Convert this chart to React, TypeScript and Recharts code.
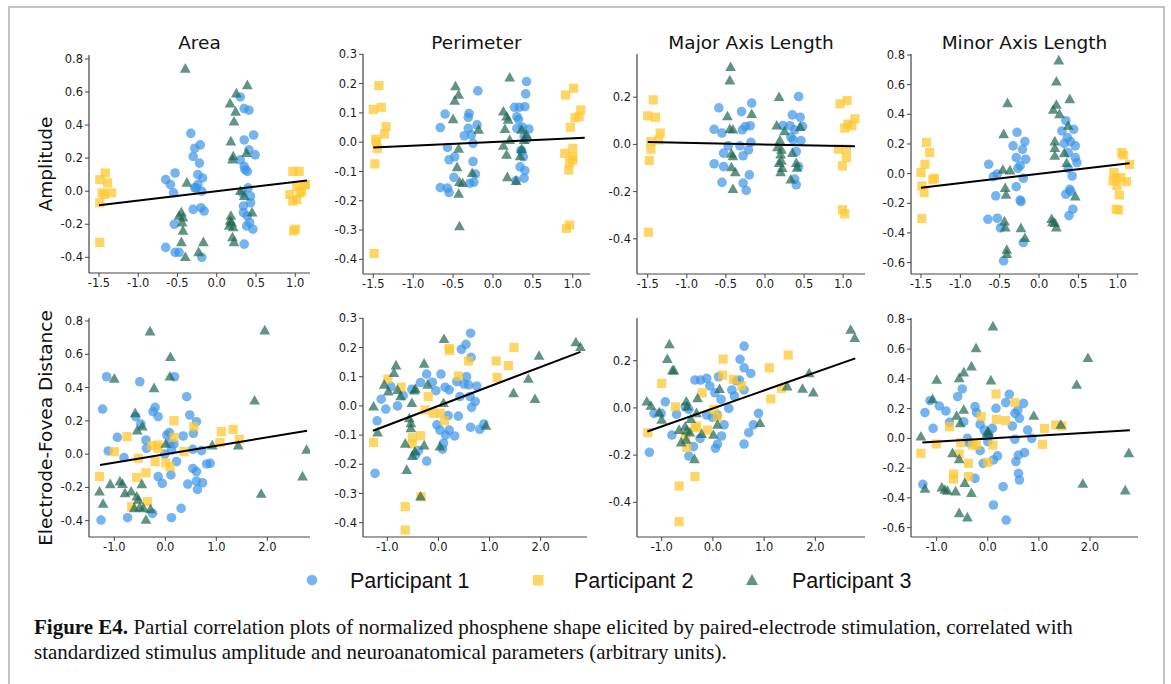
import { ScatterChart, Scatter, XAxis, YAxis } from 'recharts';

type Pt = [number, number];

// --- data ---

const TITLES = ['Area', 'Perimeter', 'Major Axis Length', 'Minor Axis Length'];
const ROW_LABELS = ['Amplitude', 'Electrode-Fovea Distance'];
const LEGEND = ['Participant 1', 'Participant 2', 'Participant 3'];

const TOP_X_TICKS = [-1.5, -1.0, -0.5, 0.0, 0.5, 1.0];
const BOTTOM_X_TICKS = [-1.0, 0.0, 1.0, 2.0];
const AREA_Y_TICKS = [-0.4, -0.2, 0.0, 0.2, 0.4, 0.6, 0.8];
const PERIM_Y_TICKS = [-0.4, -0.3, -0.2, -0.1, 0.0, 0.1, 0.2, 0.3];
const MAJOR_Y_TICKS = [-0.4, -0.2, 0.0, 0.2];
const MINOR_Y_TICKS = [-0.6, -0.4, -0.2, 0.0, 0.2, 0.4, 0.6, 0.8];

// amplitude row
const areaAmpP1: Pt[] = [[-0.33,0.35],[-0.28,0.26],[-0.21,0.28],[-0.30,0.21],[-0.22,0.17],[-0.53,0.11],[-0.65,0.07],[-0.59,0.04],[-0.24,0.10],[-0.18,0.08],[-0.24,0.04],[-0.28,0.02],[-0.19,0.0],[-0.55,-0.01],[-0.26,0.02],[-0.30,-0.11],[-0.20,-0.10],[-0.16,-0.12],[-0.54,-0.20],[-0.65,-0.34],[-0.53,-0.37],[-0.48,-0.37],[-0.19,-0.40],[0.30,0.57],[0.35,0.50],[0.41,0.49],[0.47,0.34],[0.35,0.31],[0.41,0.25],[0.49,0.22],[0.30,0.19],[0.35,0.15],[0.39,0.12],[0.36,0.13],[0.40,0.02],[0.33,-0.01],[0.43,-0.03],[0.43,-0.07],[0.34,-0.09],[0.34,-0.13],[0.39,-0.15],[0.42,-0.19],[0.38,-0.21],[0.46,-0.23],[0.35,-0.32]];
const areaAmpP2: Pt[] = [[-1.49,0.07],[-1.42,0.11],[-1.39,0.05],[-1.46,-0.01],[-1.34,-0.01],[-1.43,-0.02],[-1.49,-0.07],[-1.49,-0.31],[0.97,0.12],[1.05,0.12],[1.12,0.04],[1.02,0.03],[0.93,-0.02],[1.06,-0.01],[1.02,-0.05],[0.97,-0.06],[1.0,-0.23],[0.98,-0.24],[1.08,0.0],[1.15,0.04]];
const areaAmpP3: Pt[] = [[-0.40,0.74],[0.17,0.53],[0.25,0.59],[0.39,0.64],[0.24,0.48],[0.22,0.42],[0.18,0.30],[0.21,0.21],[0.20,0.19],[0.38,0.23],[-0.38,0.05],[0.30,0.0],[0.35,-0.03],[0.45,-0.13],[-0.45,-0.13],[-0.43,-0.16],[-0.48,-0.15],[-0.44,-0.19],[-0.43,-0.24],[-0.45,-0.31],[-0.17,-0.31],[-0.40,-0.40],[-0.23,-0.37],[0.18,-0.15],[0.17,-0.18],[0.16,-0.21],[0.21,-0.22],[0.20,-0.28],[0.22,-0.31],[0.19,-0.19]];
const areaAmpFit: Pt[] = [[-1.5,-0.085],[1.15,0.065]];

const perimAmpP1: Pt[] = [[-0.19,0.175],[-0.60,0.096],[-0.66,0.05],[-0.30,0.098],[-0.31,0.085],[-0.20,0.059],[-0.31,0.047],[-0.27,0.025],[-0.36,0.022],[-0.25,-0.004],[-0.57,-0.018],[-0.48,-0.05],[-0.55,-0.06],[-0.25,-0.066],[-0.49,-0.12],[-0.66,-0.155],[-0.57,-0.157],[-0.55,-0.172],[-0.22,-0.109],[-0.24,-0.137],[-0.29,-0.14],[0.42,0.207],[0.41,0.165],[0.27,0.119],[0.33,0.119],[0.40,0.121],[0.30,0.087],[0.32,0.078],[0.37,0.051],[0.45,0.045],[0.30,0.047],[0.39,0.019],[0.42,0.01],[0.35,-0.029],[0.38,-0.05],[0.34,-0.084],[0.40,-0.097],[0.39,-0.123],[0.29,-0.131],[0.36,-0.03]];
const perimAmpP2: Pt[] = [[-1.43,0.193],[-1.50,0.112],[-1.40,0.119],[-1.34,0.053],[-1.36,0.028],[-1.47,0.010],[-1.45,-0.021],[-1.48,-0.074],[-1.49,-0.38],[-1.46,0.0],[0.91,0.161],[1.01,0.184],[1.10,0.110],[1.03,0.084],[1.08,0.087],[0.97,0.051],[0.90,-0.038],[1.0,-0.021],[1.0,-0.061],[0.96,-0.07],[0.95,-0.095],[1.0,-0.05],[0.92,-0.294],[0.96,-0.283]];
const perimAmpP3: Pt[] = [[0.21,0.22],[-0.47,0.19],[-0.43,0.161],[-0.48,0.141],[-0.50,0.078],[-0.18,0.042],[0.13,0.104],[0.17,0.087],[0.19,0.076],[0.15,0.044],[0.21,0.007],[0.13,-0.013],[0.17,-0.044],[0.36,0.042],[0.39,0.007],[0.42,0.025],[0.36,-0.024],[0.34,-0.049],[-0.43,-0.023],[-0.45,-0.086],[-0.26,-0.106],[-0.42,-0.137],[-0.38,-0.14],[-0.43,-0.177],[0.18,-0.12],[0.29,-0.133],[-0.42,-0.288]];
const perimAmpFit: Pt[] = [[-1.5,-0.018],[1.15,0.015]];

const majorAmpP1: Pt[] = [[-0.59,0.155],[-0.65,0.064],[-0.55,0.048],[-0.65,-0.082],[-0.53,-0.094],[-0.55,-0.161],[-0.30,0.139],[-0.17,0.175],[-0.29,0.062],[-0.25,0.076],[-0.19,0.079],[-0.47,-0.006],[-0.32,-0.006],[-0.28,-0.048],[-0.21,-0.023],[-0.18,0.009],[-0.53,-0.037],[-0.20,-0.129],[-0.28,-0.164],[-0.24,-0.195],[0.43,0.203],[0.35,0.125],[0.45,0.115],[0.32,0.079],[0.48,0.076],[0.38,0.062],[0.33,0.031],[0.46,0.016],[0.36,0.019],[0.40,-0.03],[0.43,-0.094],[0.38,-0.147],[0.40,-0.171],[0.23,0.08]];
const majorAmpP2: Pt[] = [[-1.43,0.189],[-1.50,0.121],[-1.40,0.115],[-1.34,0.048],[-1.46,0.012],[-1.36,0.019],[-1.46,-0.02],[-1.48,-0.068],[-1.49,-0.372],[0.96,0.172],[1.05,0.186],[1.15,0.108],[1.06,0.086],[1.11,0.079],[1.02,0.069],[0.94,-0.02],[1.04,-0.02],[1.04,-0.056],[0.99,-0.091],[1.02,-0.294],[0.99,-0.277]];
const majorAmpP3: Pt[] = [[-0.44,0.327],[-0.45,0.27],[-0.48,0.118],[-0.17,0.128],[-0.45,0.064],[-0.41,0.062],[-0.43,-0.04],[-0.41,-0.051],[-0.43,-0.098],[-0.38,-0.119],[-0.41,-0.19],[0.18,0.2],[0.15,0.079],[0.25,0.055],[0.19,0.016],[0.16,-0.013],[0.21,-0.023],[0.20,-0.044],[0.18,-0.08],[0.22,-0.101],[0.20,-0.119],[0.33,-0.15],[0.35,-0.037],[0.45,0.073],[0.40,-0.08],[0.41,-0.1],[0.21,-0.07]];
const majorAmpFit: Pt[] = [[-1.5,0.01],[1.15,-0.008]];

const minorAmpP1: Pt[] = [[-0.28,0.279],[-0.33,0.187],[-0.18,0.216],[-0.21,0.164],[-0.29,0.108],[-0.17,0.097],[-0.24,0.054],[-0.27,0.036],[-0.20,-0.031],[-0.64,0.063],[-0.58,-0.02],[-0.53,-0.002],[-0.55,-0.15],[-0.29,-0.088],[-0.24,-0.178],[-0.23,-0.189],[-0.65,-0.308],[-0.53,-0.301],[-0.49,-0.366],[-0.20,-0.465],[-0.45,-0.589],[0.34,0.357],[0.29,0.288],[0.44,0.299],[0.36,0.243],[0.40,0.216],[0.32,0.204],[0.46,0.187],[0.37,0.142],[0.46,0.108],[0.48,0.074],[0.37,0.036],[0.42,-0.016],[0.39,-0.106],[0.34,-0.139],[0.40,-0.12],[0.38,-0.283],[0.43,-0.24]];
const minorAmpP2: Pt[] = [[-1.43,0.211],[-1.39,0.142],[-1.45,0.063],[-1.50,0.007],[-1.33,-0.031],[-1.35,-0.04],[-1.49,-0.083],[-1.46,-0.128],[-1.49,-0.303],[1.05,0.142],[1.07,0.126],[1.15,0.063],[0.95,0.007],[1.04,-0.027],[0.98,-0.031],[0.94,-0.049],[1.11,-0.054],[0.99,-0.081],[1.02,-0.144],[0.98,-0.24],[1.01,-0.245]];
const minorAmpP3: Pt[] = [[-0.40,0.474],[-0.45,0.265],[-0.46,0.025],[-0.37,0.02],[-0.43,-0.099],[-0.42,-0.144],[-0.44,-0.324],[-0.43,-0.364],[-0.23,-0.369],[-0.18,-0.436],[-0.41,-0.515],[-0.41,-0.544],[0.25,0.762],[0.22,0.62],[0.18,0.429],[0.22,0.463],[0.26,0.4],[0.39,0.501],[0.37,0.321],[0.20,0.216],[0.20,0.171],[0.20,0.119],[0.32,0.137],[0.35,0.07],[0.46,-0.155],[0.16,-0.308],[0.20,-0.335],[0.22,-0.364],[0.17,-0.33]];
const minorAmpFit: Pt[] = [[-1.5,-0.095],[1.15,0.07]];

// electrode-fovea distance row
const areaDistP1: Pt[] = [[-1.15,0.465],[-1.23,0.271],[-0.50,0.435],[0.18,0.465],[0.42,0.345],[-1.12,0.019],[-0.94,0.101],[-0.81,-0.021],[-0.58,0.225],[-0.48,0.181],[-0.38,0.085],[-0.37,0.035],[-0.24,0.255],[-0.20,0.281],[-0.14,0.225],[0.03,0.115],[0.08,0.129],[0.17,0.061],[0.09,0.065],[0.12,0.025],[0.35,0.109],[0.48,0.235],[0.55,0.125],[0.61,0.195],[0.54,0.029],[0.71,0.021],[0.22,-0.045],[0.11,-0.125],[-0.14,-0.135],[-0.06,-0.176],[0.44,-0.18],[0.54,-0.086],[0.61,-0.105],[0.61,-0.162],[0.73,-0.172],[0.63,-0.212],[0.81,-0.059],[0.88,-0.055],[-1.26,-0.396],[-0.74,-0.382],[-0.25,-0.356],[0.12,-0.382],[0.31,-0.326],[-0.01,0.0]];
const areaDistP2: Pt[] = [[-1.29,-0.135],[-1.0,0.015],[-0.75,0.105],[-0.56,-0.14],[-0.53,-0.025],[-0.38,-0.112],[-0.35,-0.286],[-0.66,-0.316],[-0.27,0.051],[-0.20,-0.045],[-0.14,0.055],[0.01,-0.052],[0.09,-0.075],[0.17,0.201],[0.17,0.101],[0.37,0.015],[0.56,0.165],[1.10,0.135],[1.33,0.149],[1.07,0.069],[1.45,0.089],[-0.14,0.035]];
const areaDistP3: Pt[] = [[-0.30,0.736],[0.10,0.582],[0.09,0.465],[-1.0,0.452],[-0.22,0.395],[-0.59,0.245],[-0.55,0.141],[-0.45,0.165],[0.01,0.061],[0.92,0.051],[1.43,0.051],[1.95,0.742],[1.75,0.321],[2.77,0.025],[2.69,-0.135],[1.88,-0.24],[-1.29,-0.226],[-1.22,-0.3],[-1.08,-0.182],[-0.89,-0.166],[-0.84,-0.18],[-0.79,-0.236],[-0.67,-0.226],[-0.56,-0.256],[-0.53,-0.276],[-0.46,-0.182],[-0.61,-0.326],[-0.50,-0.32],[-0.43,-0.326],[-0.29,-0.332],[-0.38,-0.396]];
const areaDistFit: Pt[] = [[-1.28,-0.065],[2.78,0.14]];

const perimDistP1: Pt[] = [[0.63,0.249],[0.54,0.211],[0.45,0.194],[0.64,0.166],[-0.23,0.109],[0.05,0.109],[-0.35,0.08],[-0.12,0.081],[-0.05,0.052],[-0.93,0.066],[-1.12,0.023],[-1.03,-0.011],[-0.80,0.0],[-0.69,0.035],[-0.52,0.057],[0.13,0.064],[0.21,0.055],[0.36,0.083],[0.50,0.075],[0.55,0.1],[0.75,0.068],[0.59,0.072],[0.42,0.032],[0.62,0.032],[0.72,0.015],[0.65,-0.005],[-1.20,-0.051],[0.39,-0.035],[0.19,-0.033],[-0.03,-0.065],[0.03,-0.083],[0.21,-0.083],[0.32,-0.103],[0.14,-0.1],[0.10,-0.128],[0.08,-0.148],[-0.39,-0.153],[-0.45,-0.168],[-0.23,-0.189],[0.63,-0.073],[0.81,-0.08],[0.89,-0.062],[-1.24,-0.231]];
const perimDistP2: Pt[] = [[-0.99,0.092],[-0.73,0.064],[-0.20,0.032],[0.21,0.197],[0.22,0.19],[0.39,0.102],[0.59,0.154],[1.13,0.154],[1.15,0.097],[1.37,0.138],[1.48,0.2],[-0.26,-0.014],[-0.10,-0.025],[0.04,-0.025],[0.12,-0.051],[-1.27,-0.125],[-0.51,-0.109],[-0.35,-0.102],[-0.51,-0.13],[-0.34,-0.311],[-0.65,-0.345],[-0.65,-0.425]];
const perimDistP3: Pt[] = [[0.11,0.228],[-0.28,0.144],[-0.83,0.138],[-0.87,0.112],[-1.06,0.072],[-0.98,0.049],[-0.80,0.054],[-0.74,0.032],[-0.45,0.058],[-0.47,0.052],[-0.21,0.072],[-0.52,0.009],[0.10,0.009],[-1.27,-0.003],[-0.57,-0.043],[-0.54,-0.06],[-0.54,-0.077],[-1.19,-0.092],[-0.65,-0.13],[-0.28,-0.136],[0.03,-0.14],[-0.46,-0.157],[-0.51,-0.172],[-0.62,-0.22],[-0.35,-0.311],[0.93,-0.069],[1.47,0.043],[1.76,0.092],[1.89,0.023],[1.97,0.171],[2.69,0.217],[2.78,0.201]];
const perimDistFit: Pt[] = [[-1.28,-0.085],[2.78,0.185]];

const majorDistP1: Pt[] = [[0.61,0.262],[0.53,0.206],[0.61,0.17],[0.74,0.146],[-0.35,0.118],[-0.24,0.118],[-0.12,0.125],[0.11,0.132],[-0.06,0.093],[0.04,0.064],[0.16,0.036],[0.37,0.076],[0.46,0.115],[0.52,0.118],[0.61,0.076],[0.42,0.05],[0.31,-0.002],[-0.93,0.026],[-1.15,-0.023],[-1.01,-0.023],[-0.71,-0.027],[-0.54,0.005],[-0.47,-0.006],[-0.12,-0.03],[-0.01,-0.04],[0.09,-0.03],[0.22,-0.072],[-0.80,-0.115],[-0.25,-0.129],[0.17,-0.119],[0.09,-0.153],[0.05,-0.171],[-0.38,-0.164],[-0.47,-0.204],[0.70,-0.105],[0.79,-0.072],[0.89,-0.023],[0.61,-0.153],[-1.24,-0.188]];
const majorDistP2: Pt[] = [[-1.0,0.104],[0.20,0.207],[0.19,0.139],[0.40,0.121],[0.56,0.093],[-0.21,0.064],[-0.73,0.005],[0.02,-0.006],[0.09,-0.04],[-0.32,-0.077],[-0.35,-0.084],[-0.11,-0.094],[-1.27,-0.105],[-0.54,-0.122],[-0.51,-0.167],[-0.35,-0.291],[-0.66,-0.331],[-0.66,-0.482],[1.10,0.17],[1.47,0.224],[1.13,0.038],[1.34,0.083]];
const majorDistP3: Pt[] = [[-0.85,0.269],[-0.89,0.206],[-0.79,0.158],[-0.76,0.158],[-1.29,0.026],[-1.21,0.008],[-1.05,-0.02],[-1.0,-0.051],[-0.52,0.026],[-0.50,0.005],[-0.30,0.04],[-0.43,-0.048],[-0.32,-0.023],[0.13,0.079],[-0.66,-0.094],[-0.54,-0.08],[-0.51,-0.098],[-0.45,-0.105],[-0.62,-0.147],[-0.52,-0.136],[-0.22,-0.111],[0.01,-0.115],[0.09,-0.072],[-0.36,-0.218],[0.92,-0.065],[1.45,0.09],[1.75,0.08],[1.88,0.146],[1.96,0.064],[2.69,0.33],[2.77,0.295]];
const majorDistFit: Pt[] = [[-1.28,-0.10],[2.78,0.21]];

const minorDistP1: Pt[] = [[-1.13,0.253],[-1.23,0.173],[-0.95,0.218],[-0.82,0.184],[-1.07,0.067],[-0.75,0.108],[-0.50,0.332],[-0.59,0.28],[-0.47,0.112],[-0.25,0.213],[-0.22,0.173],[-0.15,0.094],[-0.07,0.056],[0.02,0.029],[0.09,0.067],[-0.02,0.016],[-0.09,-0.168],[-0.15,-0.083],[-0.40,0.0],[-0.37,-0.029],[0.0,-0.022],[0.16,0.202],[0.35,0.24],[0.42,0.296],[0.53,0.168],[0.62,0.135],[0.70,0.235],[0.59,0.19],[0.48,0.083],[0.78,0.056],[0.86,0.0],[0.53,-0.006],[0.19,-0.118],[0.11,-0.145],[0.60,-0.112],[0.72,-0.096],[0.55,-0.156],[0.60,-0.235],[0.62,-0.28],[-1.27,-0.309],[-0.25,-0.269],[0.30,-0.325],[0.11,-0.448],[0.36,-0.549]];
const minorDistP2: Pt[] = [[-1.31,-0.1],[-1.01,-0.038],[-0.75,0.079],[-0.67,-0.24],[-0.67,-0.273],[-0.53,-0.029],[-0.56,-0.105],[-0.38,-0.168],[-0.38,-0.257],[-0.30,-0.045],[-0.22,-0.045],[-0.13,0.146],[0.0,-0.161],[0.10,-0.045],[0.16,0.298],[0.17,0.128],[0.35,0.119],[0.53,0.24],[1.11,0.067],[1.07,-0.04],[1.33,0.09],[1.45,0.083]];
const minorDistP3: Pt[] = [[0.10,0.751],[-0.23,0.605],[-0.32,0.482],[-0.47,0.442],[-0.56,0.403],[-1.0,0.392],[0.06,0.388],[-1.08,0.262],[-0.47,0.191],[-0.61,0.15],[-0.54,0.101],[0.0,0.045],[0.01,0.034],[-1.31,0.011],[0.90,0.15],[1.43,0.09],[1.74,0.359],[1.96,0.538],[2.76,-0.101],[1.86,-0.307],[2.69,-0.351],[-0.69,-0.101],[-0.56,-0.141],[-1.23,-0.34],[-0.90,-0.331],[-0.84,-0.347],[-0.79,-0.354],[-0.63,-0.358],[-0.45,-0.302],[-0.32,-0.369],[-0.56,-0.504],[-0.40,-0.533]];
const minorDistFit: Pt[] = [[-1.28,-0.028],[2.78,0.055]];

// --- styling ---

const BLUE = '#3a94e8';
const YELLOW = '#ffc832';
const GREEN = '#1e6650';
const AXIS = '#444';
const MPL_FONT = "'DejaVu Sans', sans-serif";
const SERIF = "'Liberation Serif', 'Times New Roman', serif";

const Dot = (p: any) => <circle cx={p.cx} cy={p.cy} r={4.8} fill={BLUE} fillOpacity={0.7} />;
const Sq = (p: any) => <rect x={p.cx - 4.6} y={p.cy - 4.6} width={9.2} height={9.2} fill={YELLOW} fillOpacity={0.75} />;
const Tri = (p: any) => (
  <polygon
    points={`${p.cx},${p.cy - 5.8} ${p.cx - 5.4},${p.cy + 3.8} ${p.cx + 5.4},${p.cy + 3.8}`}
    fill={GREEN}
    fillOpacity={0.7}
  />
);
const NoMark = () => <g />;

const toPts = (arr: Pt[]) => arr.map(([x, y]) => ({ x, y }));
const fmt = (v: number) => v.toFixed(1);

interface PanelProps {
  box: [number, number, number, number]; // plot area: left, top, right, bottom
  xDomain: [number, number];
  yDomain: [number, number];
  xTicks: number[];
  yTicks: number[];
  p1: Pt[];
  p2: Pt[];
  p3: Pt[];
  fit: Pt[];
}

const M = { top: 10, right: 12, bottom: 0, left: 0 };
const YW = 44;
const XH = 24;

function Panel({ box, xDomain, yDomain, xTicks, yTicks, p1, p2, p3, fit }: PanelProps) {
  const [l, t, r, b] = box;
  const width = r - l + YW + M.right;
  const height = b - t + M.top + XH;
  const tick = { fontSize: 11.5, fill: '#1a1a1a', fontFamily: MPL_FONT };
  return (
    <div style={{ position: 'absolute', left: l - YW, top: t - M.top }}>
      <ScatterChart width={width} height={height} margin={M}>
        <XAxis
          type="number"
          dataKey="x"
          domain={xDomain}
          ticks={xTicks}
          allowDataOverflow
          height={XH}
          tickFormatter={fmt}
          tick={tick}
          tickSize={4}
          axisLine={{ stroke: AXIS, strokeWidth: 1.2 }}
          tickLine={{ stroke: AXIS }}
        />
        <YAxis
          type="number"
          dataKey="y"
          domain={yDomain}
          ticks={yTicks}
          allowDataOverflow
          width={YW}
          tickFormatter={fmt}
          tick={tick}
          tickSize={4}
          axisLine={{ stroke: AXIS, strokeWidth: 1.2 }}
          tickLine={{ stroke: AXIS }}
        />
        <Scatter data={toPts(p1)} shape={Dot} isAnimationActive={false} />
        <Scatter data={toPts(p2)} shape={Sq} isAnimationActive={false} />
        <Scatter data={toPts(p3)} shape={Tri} isAnimationActive={false} />
        <Scatter
          data={toPts(fit)}
          shape={NoMark}
          line={{ stroke: '#000', strokeWidth: 2 }}
          isAnimationActive={false}
        />
      </ScatterChart>
    </div>
  );
}

const PANELS: PanelProps[] = [
  { box: [89, 55, 310, 273], xDomain: [-1.627, 1.188], yDomain: [-0.495, 0.824], xTicks: TOP_X_TICKS, yTicks: AREA_Y_TICKS, p1: areaAmpP1, p2: areaAmpP2, p3: areaAmpP3, fit: areaAmpFit },
  { box: [363, 54, 590, 274], xDomain: [-1.629, 1.216], yDomain: [-0.45, 0.301], xTicks: TOP_X_TICKS, yTicks: PERIM_Y_TICKS, p1: perimAmpP1, p2: perimAmpP2, p3: perimAmpP3, fit: perimAmpFit },
  { box: [637, 54, 865, 274], xDomain: [-1.637, 1.279], yDomain: [-0.549, 0.383], xTicks: TOP_X_TICKS, yTicks: MAJOR_Y_TICKS, p1: majorAmpP1, p2: majorAmpP2, p3: majorAmpP3, fit: majorAmpFit },
  { box: [911, 54, 1138, 274], xDomain: [-1.627, 1.257], yDomain: [-0.677, 0.807], xTicks: TOP_X_TICKS, yTicks: MINOR_Y_TICKS, p1: minorAmpP1, p2: minorAmpP2, p3: minorAmpP3, fit: minorAmpFit },
  { box: [89, 318, 310, 537], xDomain: [-1.496, 2.837], yDomain: [-0.498, 0.818], xTicks: BOTTOM_X_TICKS, yTicks: AREA_Y_TICKS, p1: areaDistP1, p2: areaDistP2, p3: areaDistP3, fit: areaDistFit },
  { box: [363, 318, 587, 537], xDomain: [-1.476, 2.908], yDomain: [-0.449, 0.301], xTicks: BOTTOM_X_TICKS, yTicks: PERIM_Y_TICKS, p1: perimDistP1, p2: perimDistP2, p3: perimDistP3, fit: perimDistFit },
  { box: [637, 318, 865, 537], xDomain: [-1.482, 2.97], yDomain: [-0.547, 0.381], xTicks: BOTTOM_X_TICKS, yTicks: MAJOR_Y_TICKS, p1: majorDistP1, p2: majorDistP2, p3: majorDistP3, fit: majorDistFit },
  { box: [911, 318, 1138, 537], xDomain: [-1.503, 2.94], yDomain: [-0.663, 0.809], xTicks: BOTTOM_X_TICKS, yTicks: MINOR_Y_TICKS, p1: minorDistP1, p2: minorDistP2, p3: minorDistP3, fit: minorDistFit },
];

export default function App() {
  return (
    <div style={{ position: 'absolute', left: 0, top: 0, width: 1171, height: 684, overflow: 'hidden', background: '#fff' }}>
      {/* figure frame */}
      <div
        style={{
          position: 'absolute',
          left: 8,
          top: 6,
          width: 1157,
          height: 690,
          boxSizing: 'border-box',
          border: '2px solid #c4c4c4',
        }}
      />

      {PANELS.map((p, i) => (
        <Panel key={i} {...p} />
      ))}

      <svg width={1171} height={684} style={{ position: 'absolute', left: 0, top: 0, pointerEvents: 'none' }}>
        {TITLES.map((title, i) => {
          const [l, , r] = PANELS[i].box;
          return (
            <text key={title} x={(l + r) / 2} y={49} textAnchor="middle" fontFamily={MPL_FONT} fontSize={18.5} fill="#111">
              {title}
            </text>
          );
        })}
        {ROW_LABELS.map((label, i) => {
          const cy = i === 0 ? 164 : 428;
          return (
            <text
              key={label}
              x={0}
              y={0}
              transform={`translate(52, ${cy}) rotate(-90)`}
              textAnchor="middle"
              fontFamily={MPL_FONT}
              fontSize={18.5}
              fill="#111"
            >
              {label}
            </text>
          );
        })}

        {/* legend */}
        <circle cx={312} cy={580} r={5.3} fill={BLUE} fillOpacity={0.7} />
        <rect x={533} y={575} width={10.5} height={10.5} fill={YELLOW} fillOpacity={0.75} />
        <polygon points="752,574 746,585 758,585" fill={GREEN} fillOpacity={0.7} />
        {LEGEND.map((label, i) => (
          <text key={label} x={[350, 574, 792][i]} y={588} fontFamily="'Liberation Sans', Arial, sans-serif" fontSize={21.5} fill="#111">
            {label}
          </text>
        ))}

        {/* caption */}
        <text x={34} y={634} fontFamily={SERIF} fontSize={21} fill="#111">
          <tspan fontWeight="bold">Figure E4.</tspan>
          <tspan> Partial correlation plots of normalized phosphene shape elicited by paired-electrode stimulation, correlated with</tspan>
        </text>
        <text x={34} y={659} fontFamily={SERIF} fontSize={21} fill="#111">
          standardized stimulus amplitude and neuroanatomical parameters (arbitrary units).
        </text>
      </svg>
    </div>
  );
}
